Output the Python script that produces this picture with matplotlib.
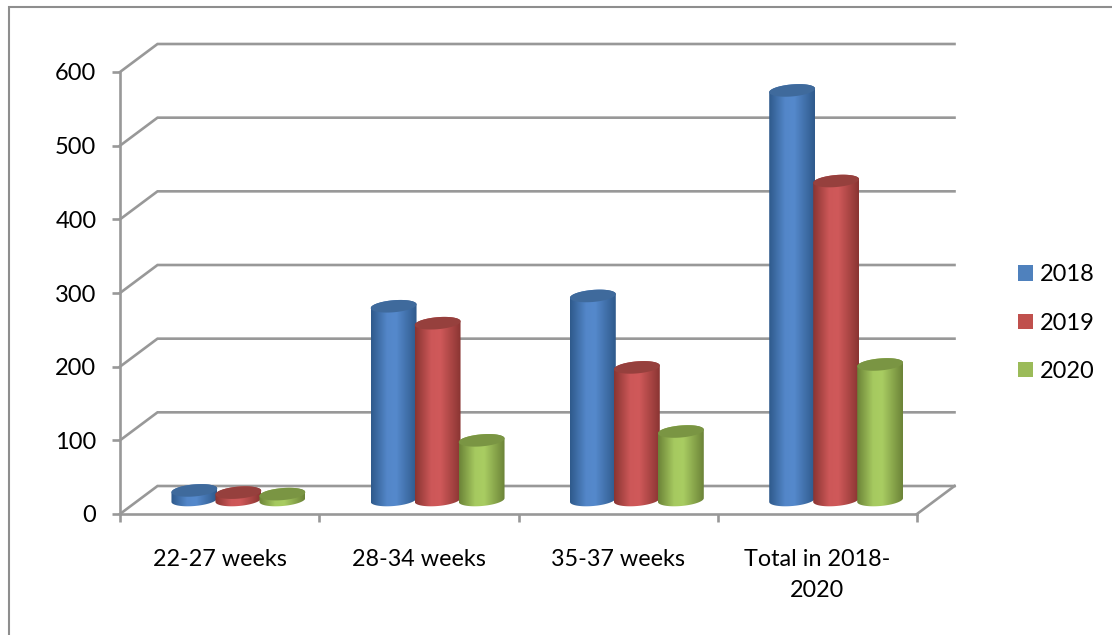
import matplotlib
matplotlib.use("Agg")
import matplotlib.pyplot as plt
import numpy as np
from matplotlib.colors import to_rgb
from matplotlib.lines import Line2D
from matplotlib.patches import Patch, Polygon

categories = ["22-27 weeks", "28-34 weeks", "35-37 weeks", "Total in 2018-\n2020"]
years = ["2018", "2019", "2020"]
values_2018 = [13, 263, 277, 556]
values_2019 = [10, 240, 180, 433]
values_2020 = [8, 81, 93, 184]
y_ticks = [0, 100, 200, 300, 400, 500, 600]

series = [values_2018, values_2019, values_2020]
legend_colors = ["#4f81bd", "#c0504d", "#9bbb59"]
edge_colors = ["#2f5a8c", "#8a3532", "#6c8438"]
mid_colors = ["#5589cc", "#d0595a", "#a9cd62"]
top_colors = ["#3f6a9c", "#96403d", "#7a9543"]

WIDTH, HEIGHT = 1112, 635
GRID = "#989898"

plt.rcParams["font.family"] = ["Lato", "DejaVu Sans"]
fig = plt.figure(figsize=(WIDTH / 100, HEIGHT / 100), dpi=100)
# axes box is the front plane of the 3D frame
ax = fig.add_axes([120 / WIDTH, 1 - 514 / HEIGHT, 797 / WIDTH, 442 / HEIGHT])
ax.set_xlim(0, 4)
ax.set_ylim(0, 600)

# pixels to data units
px_x = 4 / 797
px_y = 600 / 442
depth_x = 37.5 * px_x
depth_y = 28 * px_y


def ellipse_points(cx, cy, half_w, half_h, start, stop):
    t = np.linspace(start, stop, 60)
    tilt = np.deg2rad(5)
    ex = half_w * np.cos(t)
    ey = half_h * np.sin(t)
    xs = ex * np.cos(tilt) - ey * np.sin(tilt)
    ys = ex * np.sin(tilt) + ey * np.cos(tilt)
    return cx + xs * px_x, cy + ys * px_y


def draw_cylinder(cx, value, idx, z):
    half_w = 23
    half_h = 6
    base = depth_y / 2
    top = base + value
    # body outline: lower half of base ellipse, upper half of top ellipse
    bx, by = ellipse_points(cx, base, half_w, half_h, np.pi, 2 * np.pi)
    tx, ty = ellipse_points(cx, top, half_w, half_h, 0, np.pi)
    outline = np.column_stack([np.r_[bx, tx], np.r_[by, ty]])
    body = Polygon(outline, closed=True, transform=ax.transData)

    edge = np.array(to_rgb(edge_colors[idx]))
    mid = np.array(to_rgb(mid_colors[idx]))
    stops = np.linspace(0, 1, 64)
    weight = np.interp(stops, [0, 0.35, 0.55, 1], [0, 0.95, 1, 0])
    shade = edge + (mid - edge) * weight[:, None]
    im = ax.imshow(shade[None, :, :], aspect="auto", interpolation="bilinear", zorder=z,
                   extent=[cx - half_w * px_x, cx + half_w * px_x, base - 12 * px_y, top + 12 * px_y])
    im.set_clip_path(body)

    ex, ey = ellipse_points(cx, top, half_w, half_h, 0, 2 * np.pi)
    ax.add_patch(Polygon(np.column_stack([ex, ey]), closed=True, facecolor=top_colors[idx],
                         edgecolor="none", zorder=z + 0.1, clip_on=False))


# back wall, side wall and floor lines
for v in y_ticks:
    ax.plot([0, depth_x, 4 + depth_x], [v, v + depth_y, v + depth_y], color=GRID, lw=1.9,
            clip_on=False, zorder=1, solid_joinstyle="miter")
ax.plot([4, 4 + depth_x], [0, depth_y], color=GRID, lw=1.9, clip_on=False, zorder=1)

spacing = 44 * px_x
z = 3
for c in range(len(categories)):
    center = c + 0.5 + depth_x / 2
    for s, vals in enumerate(series):
        draw_cylinder(center + (s - 1) * spacing, vals[c], s, z)
        z += 1

ax.set_xlim(0, 4)
ax.set_ylim(0, 600)

for name in ["top", "right"]:
    ax.spines[name].set_visible(False)
for name in ["left", "bottom"]:
    ax.spines[name].set_color(GRID)
    ax.spines[name].set_linewidth(1.9)
    ax.spines[name].set_zorder(2)

ax.set_yticks(y_ticks)
ax.tick_params(axis="y", length=6, width=1.9, color=GRID, pad=11, labelsize=17, labelcolor="black")
ax.set_xticks(range(5))
ax.set_xticklabels([])
ax.tick_params(axis="x", which="major", length=6, width=1.9, color=GRID)
ax.set_xticks(np.arange(4) + 0.5, minor=True)
ax.set_xticklabels(categories, minor=True, fontsize=16.8, linespacing=1.6)
ax.tick_params(axis="x", which="minor", length=0, pad=25)

handles = [Patch(facecolor=col, edgecolor="none", label=yr) for col, yr in zip(legend_colors, years)]
fig.legend(handles=handles, loc="center left", bbox_to_anchor=(997 / WIDTH, 1 - 323 / HEIGHT),
           frameon=False, fontsize=17, handlelength=0.62, handleheight=0.62,
           handletextpad=0.28, labelspacing=1.15)

# outer chart frame
fig.add_artist(Line2D([8.5 / WIDTH, 8.5 / WIDTH, 1], [0, 1 - 7 / HEIGHT, 1 - 7 / HEIGHT],
                      color="#8e8e8e", lw=1.5, solid_joinstyle="miter"))

fig.savefig("out.png", dpi=100)
